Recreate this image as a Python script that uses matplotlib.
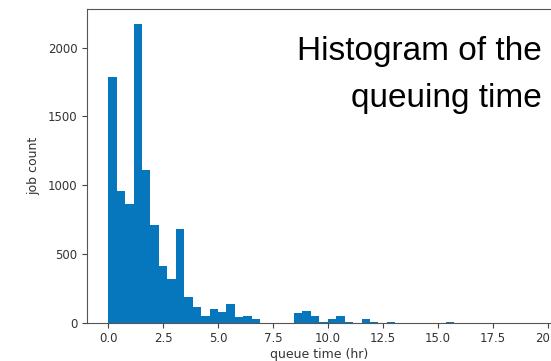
import numpy as np
import matplotlib
matplotlib.use("Agg")
import matplotlib.pyplot as plt

# histogram of queue times: 50 bins between 0 and ~19.2 hr
bin_lo = 0.0
bin_hi = 19.2
n_bins = 50
counts = [1790, 960, 865, 2175, 1110, 712, 414, 317, 680, 186,
          115, 50, 97, 80, 137, 42, 50, 28, 0, 0,
          0, 0, 67, 83, 50, 5, 23, 50, 6, 0,
          25, 3, 0, 3, 0, 0, 0, 0, 0, 0,
          3, 0, 0, 0, 0, 0, 0, 0, 0, 0]
xticks = [0.0, 2.5, 5.0, 7.5, 10.0, 12.5, 15.0, 17.5, 20.0]
yticks = [0, 500, 1000, 1500, 2000]
title_lines = ['Histogram of the', 'queuing time']

edges = np.linspace(bin_lo, bin_hi, n_bins + 1)

fig = plt.figure(figsize=(5.51, 3.61), dpi=100)
ax = fig.add_axes([0.158, 0.1066, 0.843, 0.8693])
ax.hist(edges[:-1], bins=edges, weights=counts, color='#0676bd')

ax.set_xticks(xticks)
ax.set_yticks(yticks)
ax.tick_params(labelsize=8.5, colors='#444444', labelcolor='#333333')
for s in ax.spines.values():
    s.set_color('#555555')
ax.set_xlabel('queue time (hr)', fontsize=9, color='#333333', labelpad=2)
ax.set_ylabel('job count', fontsize=9, color='#333333', labelpad=5)

# title sits inside the plot, top right, one text per line
for line, ybase in zip(title_lines, [60, 106.7]):
    fig.text(541.7 / 551, 1 - ybase / 361, line, ha='right', va='baseline',
             fontsize=24, family=['Liberation Sans', 'DejaVu Sans'])

fig.savefig('out.png', dpi=100)
